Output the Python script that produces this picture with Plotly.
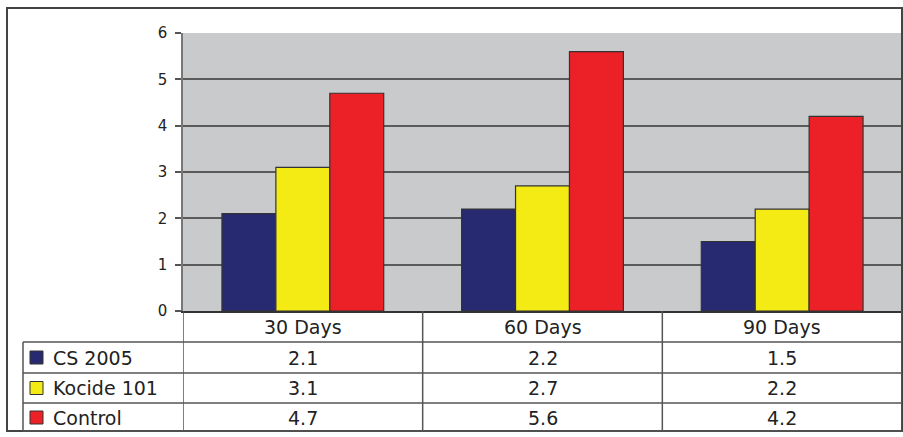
import plotly.graph_objects as go

# Data
categories = ["30 Days", "60 Days", "90 Days"]
series_names = ["CS 2005", "Kocide 101", "Control"]
cs_2005 = [2.1, 2.2, 1.5]
kocide_101 = [3.1, 2.7, 2.2]
control = [4.7, 5.6, 4.2]
y_ticks = [0, 1, 2, 3, 4, 5, 6]

series_values = [cs_2005, kocide_101, control]
colors = ["#272A70", "#F4EB14", "#EC2027"]

W, H = 903, 437
ML, MR, MT, MB = 183, 1, 33, 126
PW, PH = W - ML - MR, H - MT - MB

def px(x):
    return (x - ML) / PW

def py(y):
    return (H - MB - y) / PH

FONT = "DejaVu Sans"
LINE = "#555555"

fig = go.Figure()
for name, vals, col in zip(series_names, series_values, colors):
    fig.add_trace(go.Bar(
        x=categories, y=vals, name=name,
        marker=dict(color=col, line=dict(color="#333333", width=1.2)),
        showlegend=False,
    ))

shapes = []
annotations = []

# outer frame
shapes.append(dict(type="rect", xref="paper", yref="paper",
                   x0=px(7), x1=px(902), y0=py(8), y1=py(431),
                   line=dict(color="#444444", width=2), layer="above"))

# data table grid
row_lines = [342, 373, 403, 431]
for yy in row_lines:
    shapes.append(dict(type="line", xref="paper", yref="paper",
                       x0=px(23), x1=px(902), y0=py(yy), y1=py(yy),
                       line=dict(color=LINE, width=1.5)))
shapes.append(dict(type="line", xref="paper", yref="paper",
                   x0=px(23), x1=px(23), y0=py(342), y1=py(431),
                   line=dict(color=LINE, width=1.5)))
# column dividers at category boundaries
for k in range(len(categories) + 1):
    shapes.append(dict(type="line", xref="x", yref="paper",
                       x0=k - 0.5, x1=k - 0.5, y0=py(311), y1=py(431),
                       line=dict(color=LINE, width=1.5)))

# header row: category labels
for cat in categories:
    annotations.append(dict(xref="x", yref="paper", x=cat, y=py(327),
                            text=cat, showarrow=False,
                            font=dict(family=FONT, size=19, color="#222222"),
                            xanchor="center", yanchor="middle"))

# series rows: legend key, name and values
row_centers = [357.5, 388, 417.5]
for name, vals, col, yc in zip(series_names, series_values, colors, row_centers):
    shapes.append(dict(type="rect", xref="paper", yref="paper",
                       x0=px(30), x1=px(43), y0=py(yc - 6.5), y1=py(yc + 6.5),
                       fillcolor=col, line=dict(color="#333333", width=1)))
    annotations.append(dict(xref="paper", yref="paper", x=px(51), y=py(yc),
                            text=name, showarrow=False,
                            font=dict(family=FONT, size=19, color="#222222"),
                            xanchor="left", yanchor="middle"))
    for cat, v in zip(categories, vals):
        annotations.append(dict(xref="x", yref="paper", x=cat, y=py(yc),
                                text=f"{v:.1f}", showarrow=False,
                                font=dict(family=FONT, size=19, color="#222222"),
                                xanchor="center", yanchor="middle"))

fig.update_layout(
    width=W, height=H,
    margin=dict(l=ML, r=MR, t=MT, b=MB, pad=0),
    paper_bgcolor="white",
    plot_bgcolor="#C9CACC",
    barmode="group",
    bargap=0.325,
    bargroupgap=0,
    shapes=shapes,
    annotations=annotations,
    xaxis=dict(
        showticklabels=False, ticks="", showgrid=False,
        showline=True, linecolor="#333333", linewidth=1.5,
        range=[-0.5, 2.5], fixedrange=True,
    ),
    yaxis=dict(
        range=[0, 6], tickvals=y_ticks,
        ticks="outside", ticklen=6, tickcolor="#555555", tickwidth=1.5,
        ticklabelstandoff=5,
        showgrid=True, gridcolor="#5A5A5A", gridwidth=1.5,
        zeroline=False,
        showline=True, linecolor="#777777", linewidth=1.5,
        tickfont=dict(family=FONT, size=15, color="#222222"),
    ),
)

fig.write_html("out.html")
